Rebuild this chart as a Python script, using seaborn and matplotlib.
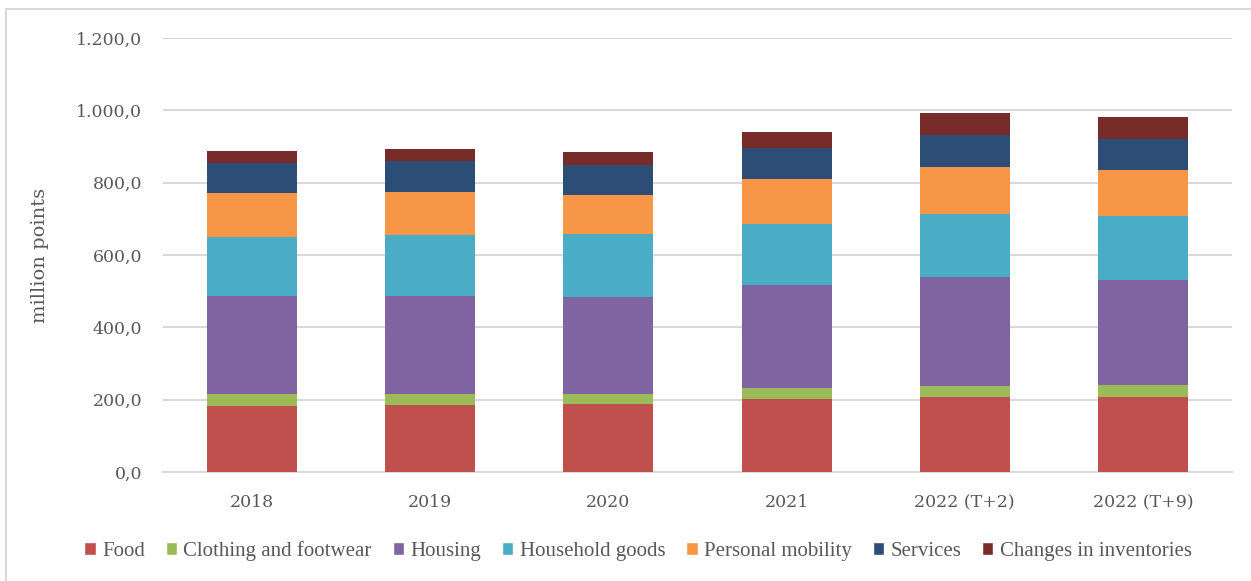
import numpy as np
import pandas as pd
import matplotlib.pyplot as plt
import seaborn as sns
from matplotlib.patches import Patch
from matplotlib.ticker import FuncFormatter

# Values (million points)
years = ['2018', '2019', '2020', '2021', '2022 (T+2)', '2022 (T+9)']
categories = ['Food', 'Clothing and footwear', 'Housing', 'Household goods',
              'Personal mobility', 'Services', 'Changes in inventories']
food = [182, 184, 187, 202, 206, 206]
clothing = [34, 32, 29, 31, 31, 35]
housing = [270, 270, 267, 285, 302, 289]
household = [165, 168, 174, 167, 174, 177]
mobility = [120, 120, 110, 125, 129, 128]
services = [82, 86, 82, 86, 90, 86]
inventories = [35, 32, 35, 44, 60, 60]

colors = ['#C0504D', '#9BBB59', '#8064A2', '#4BACC6', '#F79646', '#2C4D75', '#772C2A']

df = pd.DataFrame({'year': years, 'Food': food, 'Clothing and footwear': clothing,
                   'Housing': housing, 'Household goods': household,
                   'Personal mobility': mobility, 'Services': services,
                   'Changes in inventories': inventories})
cum = df[categories].cumsum(axis=1)

sns.set_style('white')
plt.rcParams['font.family'] = ['DejaVu Serif']
text_color = '#595959'

fig = plt.figure(figsize=(12.51, 5.81), dpi=100)
ax = fig.add_axes([0.1303, 0.1876, 0.8545, 0.747])

# Draw cumulative totals from top segment down so each stack shows
for cat, col in zip(reversed(categories), reversed(colors)):
    sns.barplot(x=df['year'], y=cum[cat], color=col, width=0.505, linewidth=0,
                errorbar=None, ax=ax, zorder=3, saturation=1)

ax.set_ylim(0, 1200)
ax.set_xlim(-0.5, 5.5)
ax.set_yticks(np.arange(0, 1201, 200))
ax.yaxis.set_major_formatter(FuncFormatter(
    lambda v, p: f'{v:,.1f}'.replace(',', 'X').replace('.', ',').replace('X', '.')))
ax.grid(axis='y', color='#D9D9D9', linewidth=1.5, zorder=0)
ax.set_axisbelow(True)
for s in ['top', 'right', 'left']:
    ax.spines[s].set_visible(False)
ax.spines['bottom'].set_color('#D9D9D9')
ax.spines['bottom'].set_linewidth(1.5)
ax.tick_params(axis='both', length=0, labelsize=12.5, colors=text_color)
ax.tick_params(axis='y', pad=15)
ax.tick_params(axis='x', pad=16)
ax.set_xlabel('')
ax.set_ylabel('million points', fontsize=14, color=text_color)
ax.yaxis.set_label_coords(-0.107, 0.5)

handles = [Patch(facecolor=c, label=l) for c, l in zip(colors, categories)]
leg = fig.legend(handles=handles, loc='center', bbox_to_anchor=(0.51, 0.052), ncol=7,
                 frameon=False, prop={'family': 'Liberation Serif', 'size': 15},
                 handlelength=0.55, handleheight=0.55,
                 handletextpad=0.3, columnspacing=1.0)
for t in leg.get_texts():
    t.set_color(text_color)

# Light chart frame
fig.add_artist(plt.Line2D([0.005, 0.005], [0, 0.985], transform=fig.transFigure,
                          color='#D9D9D9', linewidth=1.5))
fig.add_artist(plt.Line2D([0.005, 1.0], [0.985, 0.985], transform=fig.transFigure,
                          color='#D9D9D9', linewidth=1.5))

fig.savefig('out.png', dpi=100)
